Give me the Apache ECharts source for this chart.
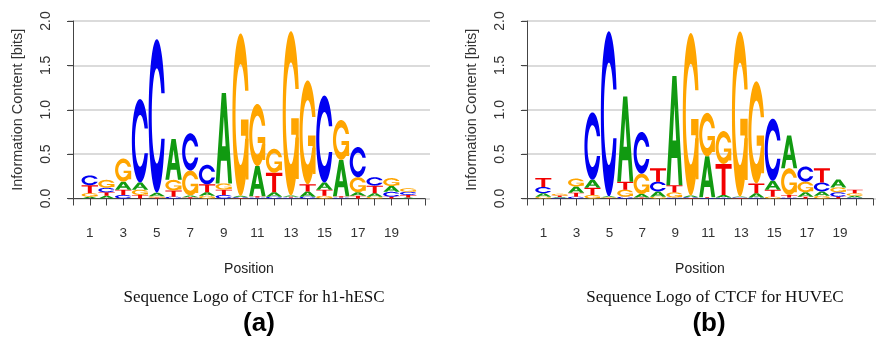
<!DOCTYPE html>
<html>
<head>
<meta charset="utf-8">
<script src="https://cdn.jsdelivr.net/npm/echarts@6/dist/echarts.min.js"></script>
<style>
html, body { margin: 0; padding: 0; background: #fff; }
#chart { width: 876px; height: 337px; }
</style>
</head>
<body>
<div id="chart"></div>
<script>
// positions along the motif
var positions = [1, 2, 3, 4, 5, 6, 7, 8, 9, 10, 11, 12, 13, 14, 15, 16, 17, 18, 19, 20];
var letters = ['A', 'C', 'G', 'T'];
var letterColors = ['#119a11', '#0000f2', '#ffa500', '#f20000'];
var xTickLabels = [1, 3, 5, 7, 9, 11, 13, 15, 17, 19];

// information content (bits) per letter, h1-hESC
var h1A = [0.02, 0.03, 0.09, 0.08, 0.04, 0.46, 0.02, 0.04, 1.02, 0.015, 0.34, 0.05, 0.015, 0.06, 0.08, 0.41, 0.04, 0.04, 0.065, 0.01];
var h1C = [0.11, 0.05, 0.04, 0.94, 1.73, 0.02, 0.42, 0.22, 0.04, 0.01, 0.01, 0.02, 0.01, 0.02, 0.98, 0.01, 0.34, 0.095, 0.055, 0.035];
var h1G = [0.04, 0.09, 0.26, 0.06, 0.015, 0.12, 0.28, 0.03, 0.07, 1.83, 0.70, 0.27, 1.85, 1.17, 0.03, 0.45, 0.17, 0.02, 0.09, 0.04];
var h1T = [0.09, 0.04, 0.06, 0.04, 0.01, 0.07, 0.015, 0.09, 0.06, 0.005, 0.015, 0.22, 0.01, 0.08, 0.07, 0.015, 0.03, 0.085, 0.02, 0.03];

// information content (bits) per letter, HUVEC
var huA = [0.04, 0.01, 0.07, 0.09, 0.01, 0.96, 0.04, 0.06, 1.23, 0.02, 0.46, 0.03, 0.01, 0.05, 0.10, 0.37, 0.05, 0.05, 0.09, 0.02];
var huC = [0.07, 0.008, 0.02, 0.76, 1.86, 0.02, 0.47, 0.11, 0.01, 0.01, 0.005, 0.01, 0.008, 0.01, 0.70, 0.01, 0.17, 0.10, 0.05, 0.01];
var huG = [0.02, 0.02, 0.09, 0.04, 0.008, 0.08, 0.23, 0.02, 0.06, 1.83, 0.49, 0.37, 1.86, 1.15, 0.02, 0.30, 0.12, 0.03, 0.055, 0.03];
var huT = [0.10, 0.015, 0.045, 0.08, 0.006, 0.09, 0.01, 0.15, 0.08, 0.005, 0.01, 0.35, 0.005, 0.11, 0.08, 0.03, 0.02, 0.16, 0.02, 0.04];

// letter outlines in unit box (u to the right, v upwards)
function arc(r, a0, a1, n) {
  var pts = [];
  for (var i = 0; i <= n; i++) {
    var a = a0 + (a1 - a0) * i / n;
    pts.push([0.5 + r * Math.sin(a), 0.5 + r * Math.cos(a)]);
  }
  return pts;
}
function ringC() {
  var ro = 0.5, ri = 0.31;
  var a0 = 0.3 + Math.PI / 2;
  var outerLow = arc(ro, a0, 1.5 * Math.PI, 40);
  var yCut = outerLow[0][1];
  var ai0 = Math.PI - Math.acos((0.5 - yCut) / ri);
  var innerLow = arc(ri, ai0, 1.5 * Math.PI, 40);
  var flip = function (p) { return [p[0], 1 - p[1]]; };
  var outer = outerLow.concat(outerLow.slice().reverse().map(flip));
  var inner = innerLow.concat(innerLow.slice().reverse().map(flip));
  return outer.concat(inner.reverse());
}
var SHAPES = {
  A: [[
    [[0, 0], [0.37, 1], [0.63, 1], [1, 0], [0.77, 0], [0.68, 0.25], [0.32, 0.25], [0.23, 0]],
    [[0.61, 0.41], [0.5, 0.74], [0.39, 0.41]]
  ]],
  C: [[ringC()]],
  G: [[ringC()], [[[0.52, 0.47], [0.98, 0.47], [0.98, 0.1], [0.8, 0.1], [0.8, 0.37], [0.52, 0.37]]]],
  T: [[[[0, 1], [1, 1], [1, 0.84], [0.62, 0.84], [0.62, 0], [0.38, 0], [0.38, 0.84], [0, 0.84]]]]
};

function toPath(rings, x, yb, w, h) {
  var d = '';
  rings.forEach(function (ring) {
    ring.forEach(function (p, i) {
      d += (i === 0 ? 'M' : 'L') + (x + p[0] * w).toFixed(2) + ' ' + (yb - p[1] * h).toFixed(2);
    });
    d += 'Z';
  });
  return d;
}

function renderLetter(params, api) {
  var pos = api.value(0), y0 = api.value(1), y1 = api.value(2), k = api.value(3);
  var p0 = api.coord([pos - 0.49, y0]);
  var p1 = api.coord([pos + 0.49, y1]);
  var w = p1[0] - p0[0], h = p0[1] - p1[1];
  if (h < 0.4) return null;
  var children = SHAPES[letters[k]].map(function (rings) {
    return {
      type: 'path',
      shape: { pathData: toPath(rings, p0[0], p0[1], w, h) },
      style: { fill: letterColors[k] }
    };
  });
  return { type: 'group', children: children };
}

// stack letters, smallest at the bottom
function buildStack(A, C, G, T) {
  var out = [];
  positions.forEach(function (pos, i) {
    var vals = [A[i], C[i], G[i], T[i]];
    var order = [0, 1, 2, 3].sort(function (a, b) { return vals[a] - vals[b]; });
    var cum = 0;
    order.forEach(function (k) {
      out.push([pos, cum, cum + vals[k], k]);
      cum += vals[k];
    });
  });
  return out;
}

var sans = '"Liberation Sans", Arial, sans-serif';
var narrow = '"Liberation Sans Narrow", "Liberation Sans", Arial, sans-serif';

function yAxisFor(gridIndex, show) {
  return {
    type: 'value', gridIndex: gridIndex, min: 0, max: 2, interval: 0.5, show: show,
    name: show ? 'Information Content [bits]' : '',
    nameLocation: 'middle', nameGap: 43,
    nameTextStyle: { fontFamily: sans, fontSize: 14.5, color: '#333' },
    axisLine: { show: true, lineStyle: { color: '#444', width: 1 } },
    axisTick: { show: true, length: 6, lineStyle: { color: '#444' } },
    axisLabel: {
      rotate: 90, margin: 15, fontFamily: sans, fontSize: 14, color: '#333',
      formatter: function (v) { return v.toFixed(1); }
    },
    splitLine: { show: show, lineStyle: { color: '#cfcfcf', width: 1.5 } }
  };
}
function xAxisHidden(gridIndex) {
  return { type: 'value', gridIndex: gridIndex, min: -0.3, max: 21.3, show: false };
}
function xAxisShown(gridIndex) {
  return {
    type: 'value', gridIndex: gridIndex, min: 0, max: 21, interval: 1,
    offset: 7.5,
    name: 'Position', nameLocation: 'middle', nameGap: 56,
    nameTextStyle: { fontFamily: narrow, fontSize: 14, color: '#222' },
    axisLine: { show: true, lineStyle: { color: '#444', width: 1 } },
    axisTick: { show: true, length: 7, lineStyle: { color: '#444' } },
    axisLabel: {
      margin: 20, fontFamily: narrow, fontSize: 13.5, color: '#333',
      formatter: function (v) { return xTickLabels.indexOf(v) >= 0 ? String(v) : ''; }
    },
    splitLine: { show: false }
  };
}

var chart = echarts.init(document.getElementById('chart'));
var option = {
  animation: false,
  backgroundColor: '#fff',
  grid: [
    { left: 68, top: 21, width: 362, height: 177.5 },
    { left: 73, top: 21, width: 352, height: 177.5 },
    { left: 522, top: 21, width: 362, height: 177.5 },
    { left: 527, top: 21, width: 352, height: 177.5 }
  ],
  xAxis: [xAxisHidden(0), xAxisShown(1), xAxisHidden(2), xAxisShown(3)],
  yAxis: [yAxisFor(0, true), yAxisFor(1, false), yAxisFor(2, true), yAxisFor(3, false)],
  series: [
    {
      type: 'custom', xAxisIndex: 0, yAxisIndex: 0, renderItem: renderLetter,
      encode: { x: 0, y: [1, 2] }, data: buildStack(h1A, h1C, h1G, h1T), clip: false
    },
    {
      type: 'custom', xAxisIndex: 2, yAxisIndex: 2, renderItem: renderLetter,
      encode: { x: 0, y: [1, 2] }, data: buildStack(huA, huC, huG, huT), clip: false
    }
  ],
  graphic: [
    { type: 'text', x: 254, y: 298, style: { text: 'Sequence Logo of CTCF for h1-hESC', font: '17px "Liberation Serif", serif', fill: '#111', align: 'center', verticalAlign: 'middle' } },
    { type: 'text', x: 259, y: 324, style: { text: '(a)', font: 'bold 26px "Liberation Sans", Arial, sans-serif', fill: '#000', align: 'center', verticalAlign: 'middle' } },
    { type: 'text', x: 715, y: 298, style: { text: 'Sequence Logo of CTCF for HUVEC', font: '17px "Liberation Serif", serif', fill: '#111', align: 'center', verticalAlign: 'middle' } },
    { type: 'text', x: 709, y: 324, style: { text: '(b)', font: 'bold 26px "Liberation Sans", Arial, sans-serif', fill: '#000', align: 'center', verticalAlign: 'middle' } }
  ]
};
chart.setOption(option);
</script>
</body>
</html>
